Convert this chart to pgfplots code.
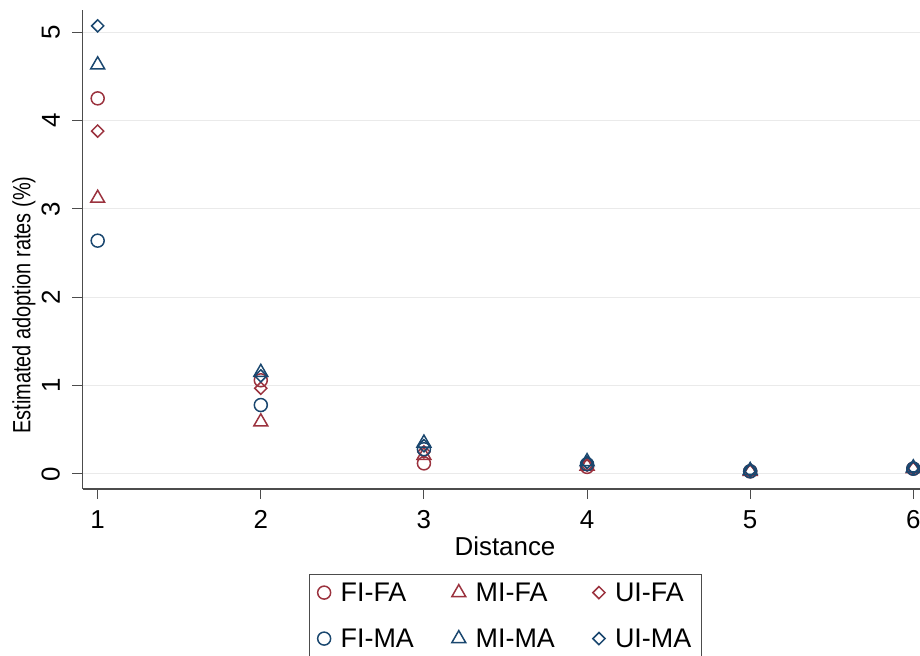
\documentclass[border=0pt]{standalone}
\usepackage{pgfplots}
\pgfplotsset{compat=1.18}
\usepackage{fontspec}
\setmainfont{Liberation Sans}
\definecolor{sred}{RGB}{155,50,62}
\definecolor{sblue}{RGB}{26,71,111}
\definecolor{gridc}{RGB}{234,234,234}
\begin{document}
\begin{tikzpicture}[x=1bp,y=1bp]
\path[use as bounding box] (0,0) rectangle (920,656);
\begin{axis}[
  at={(82.5bp,167bp)}, anchor=south west,
  scale only axis, width=837.5bp, height=479bp,
  xmin=0.907, xmax=6.041, ymin=-0.17, ymax=5.25,
  axis lines=left, axis line style={-, draw=black!70, line width=1.2pt},
  xtick={1,2,3,4,5,6}, ytick={0,1,2,3,4,5},
  tick align=outside, major tick length=10bp,
  tick style={draw=black!70, line width=1pt},
  ymajorgrids, grid style={gridc, line width=1pt},
  /pgf/number format/assume math mode=true,
  xticklabel style={font=\fontsize{26}{29}\selectfont, yshift=-8bp},
  yticklabel style={font=\fontsize{26}{29}\selectfont, xshift=-9bp, rotate=90, anchor=south},
  xlabel={Distance}, xlabel style={font=\fontsize{26}{29}\selectfont, at={(axis description cs:0.5045,-0.0929)}, anchor=north},
  ylabel={\scalebox{0.8}[1]{Estimated adoption rates (\%)}}, ylabel style={font=\fontsize{25}{29}\selectfont, at={(axis description cs:-0.0699,0.384)}, anchor=center},
  legend columns=3,
  legend style={at={(0.505,-0.1775)}, anchor=north, draw=black!70, line width=1.2pt,
    font=\fontsize{27}{30}\selectfont, row sep=22bp, inner xsep=8bp, inner ysep=6bp,
    /tikz/every odd column/.append style={column sep=8bp},
    /tikz/every even column/.append style={column sep=36bp}},
  legend cell align=left,
  clip=false,
]
\addplot[only marks, mark=o, mark size=6.5bp, sred, mark options={line width=1.5pt}] coordinates {(1,4.25) (2,1.06) (3,0.12) (4,0.08) (5,0.03) (6,0.06)};
\addlegendentry{FI-FA}
\addplot[only marks, mark=triangle, mark size=8bp, sred, mark options={line width=1.5pt}] coordinates {(1,3.12) (2,0.59) (3,0.21) (4,0.09) (5,0.03) (6,0.06)};
\addlegendentry{MI-FA}
\addplot[only marks, mark=square, mark size=4.3bp, sred, mark options={line width=1.5pt, rotate=45}] coordinates {(1,3.88) (2,0.97) (3,0.25) (4,0.10) (5,0.03) (6,0.06)};
\addlegendentry{UI-FA}
\addplot[only marks, mark=o, mark size=6.5bp, sblue, mark options={line width=1.5pt}] coordinates {(1,2.64) (2,0.78) (3,0.28) (4,0.11) (5,0.03) (6,0.06)};
\addlegendentry{FI-MA}
\addplot[only marks, mark=triangle, mark size=8bp, sblue, mark options={line width=1.5pt}] coordinates {(1,4.63) (2,1.15) (3,0.35) (4,0.14) (5,0.04) (6,0.07)};
\addlegendentry{MI-MA}
\addplot[only marks, mark=square, mark size=4.3bp, sblue, mark options={line width=1.5pt, rotate=45}] coordinates {(1,5.07) (2,1.11) (3,0.32) (4,0.13) (5,0.04) (6,0.07)};
\addlegendentry{UI-MA}
\end{axis}
\end{tikzpicture}
\end{document}
